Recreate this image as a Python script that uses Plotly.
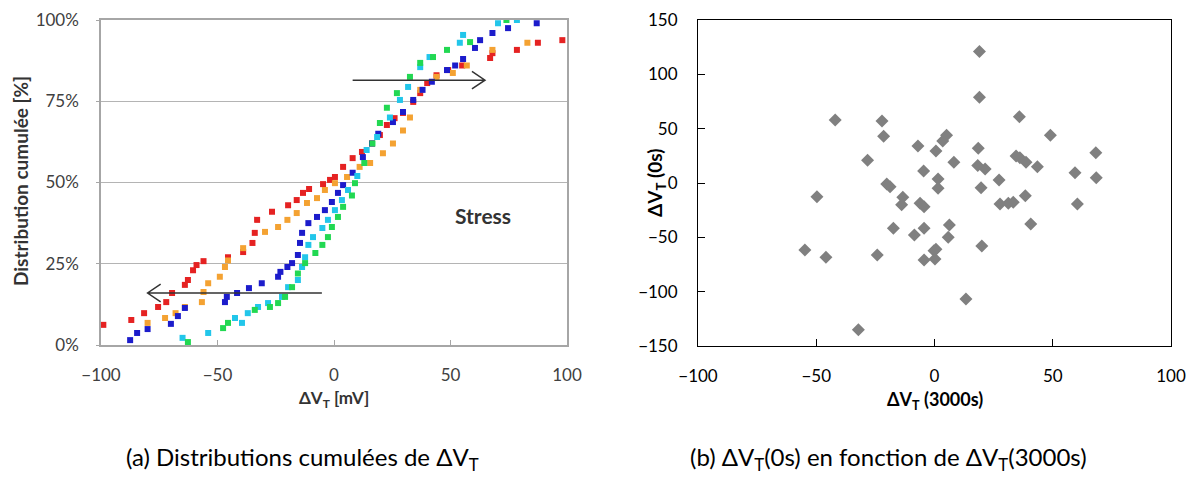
import plotly.graph_objects as go

# (a) cumulative distributions: dVT [mV] vs cumulative percentage
red_x = [-99, -87, -81.5, -75.5, -72, -69.5, -64, -62.7, -60.5, -59, -56, -45.5, -39, -35, -34, -33,
         -26.6, -19.7, -16, -13.3, -10.7, -4.7, -1.7, 0.4, 3.9, 8, 12, 16.3, 19.7, 22.7, 26, 29.6, 34,
         37, 40, 44, 49, 55, 67, 68, 78.5, 87.5, 98]
red_y = [6.2, 7.7, 9.8, 11.7, 13.2, 16, 18.5, 20, 23, 24.6, 25.8, 27, 28.6, 31.4, 34.5, 38.5,
         41, 43, 44.6, 46.8, 48, 49.5, 50.8, 51.7, 54.8, 57.5, 59.4, 62, 64.6, 67.7, 69.8, 71.4, 74.8,
         77.5, 80.6, 83, 84.6, 86, 88.3, 89.8, 90.8, 93, 93.8]

orange_x = [-80, -72.5, -68, -64, -56.7, -56, -54, -49, -46.8, -45.5, -39, -29.6, -24, -20, -16,
            -11.6, -7.3, -3.9, 0.4, 5.6, 11, 15.5, 21, 25.3, 29.6, 32.6, 37, 44, 51, 57, 68, 83]
orange_y = [6.8, 8.3, 9.8, 11.7, 13.2, 16.3, 19, 21, 24, 26, 29.8, 34.8, 36.3, 38.5, 40.6,
            43.7, 45.2, 47.7, 49.8, 51.7, 54.8, 56, 59, 62, 66, 70, 78.5, 82.5, 83.7, 86, 90.8, 93]

blue_x = [-87.5, -84.5, -80, -70, -67, -64, -46.8, -46, -41.6, -36.5, -31, -24, -23, -20, -18, -15.5,
          -14.6, -13.7, -11, -7.3, -3.9, -0.9, 1.7, 3.9, 8, 12.4, 16.3, 19, 25.3, 29.6, 34, 38, 42,
          48.5, 52, 55.4, 60.5, 62.7, 68, 74.7, 87]
blue_y = [1.5, 3.7, 4.9, 6.5, 8.9, 11.4, 13.2, 14.8, 16, 17.5, 19, 21, 22.5, 24, 25.2, 27.7,
          31.4, 34.5, 37.5, 39.4, 41.5, 44, 46.8, 49.2, 53, 57.8, 62, 65, 68.6, 71.7, 75.4, 78.5, 81,
          84.6, 86, 88, 91.4, 93.8, 96, 97.5, 99]

cyan_x = [-65, -54, -42.5, -39.5, -37, -32.6, -28.3, -22.3, -19.7, -15.5, -13.7, -12.4, -11, -9, -5,
          -2.6, 0.4, 3.4, 6, 10, 14, 18.5, 24, 28.3, 31.8, 37, 41, 54, 55.4, 70.4, 78.5]
cyan_y = [2.2, 3.7, 8.3, 6.8, 9.8, 11.7, 12.9, 14.8, 17.8, 20, 24, 27, 30.8, 33.2, 36,
          38.5, 41.5, 44.6, 47.7, 52, 60, 64, 70, 75.4, 79.4, 85.5, 88.6, 93, 95.4, 99, 100]

green_x = [-62.7, -47.6, -45.5, -34, -27.5, -24, -21, -18, -15.5, -12.4, -8, -5, -2.6, -0.9, 1.7, 3.9,
           7.7, 9, 13, 16.5, 19.7, 22.7, 27, 32.6, 37, 42.5, 48.5, 58.4, 74]
green_y = [0.9, 5.2, 6.8, 10.8, 11.7, 12.9, 14.8, 17.8, 22, 25.2, 28.3, 30.8, 33.2, 36.3, 39.4, 42.5,
           46, 49.8, 56, 62, 68.3, 73, 77.5, 82.5, 86.8, 88.6, 90.8, 93.2, 100]

# (b) dVT(0s) vs dVT(3000s)
dvt_3000 = [-42, -22.2, -21.5, -28.3, -7, -4.6, 0.6, -20.2, -18.8, 1.5, 1.5, -49.7, -13.4, 19, 19,
            35.9, 49, 5.1, 3.5, 18.5, 8.2, 34.5, 36.1, 38.7, 43.5, 18.3, 21.4, 68.2, 68.4, 59.4,
            27.3, 19.7, 38.4, -13.9, -6.1, -4.4, 27.7, 31.2, 33.3, 60.4, 40.7, -17.4, -8.5, -4.4,
            6.3, 5.8, 20, 0.6, -0.2, -4.4, 0.2, 13.3, -54.8, -45.9, -24.2, -32.2]
dvt_0 = [58, 57, 43, 21, 34, 11, 29.4, -1, -3.4, 3.7, -4.8, -12.6, -13, 121, 79,
         61, 44, 44, 38.6, 31.9, 19, 24.8, 23.3, 19, 15, 16, 12.9, 27.9, 4.9, 9.5,
         2.8, -4.3, -11.7, -20, -18.7, -21.8, -19.3, -18.7, -17.8, -19.3, -37.7, -41.7, -47.8, -41.7,
         -38.6, -50, -58, -61, -62.3, -70.8, -70, -106.7, -61.6, -68.4, -66.2, -135]

pct_ticks = [0, 25, 50, 75, 100]
pct_labels = ["0%", "25%", "50%", "75%", "100%"]

W, H = 1197, 484
OFF = 8  # the page body adds an 8px margin around the figure
FONT = "Lato"


def dom_x(a, b):
    return [(a - OFF) / W, (b - OFF) / W]


def dom_y(top, bottom):
    return [1 - (bottom - OFF) / H, 1 - (top - OFF) / H]


series = [
    (red_x, red_y, "#E52222"),
    (orange_x, orange_y, "#F4A232"),
    (blue_x, blue_y, "#1C1CCB"),
    (cyan_x, cyan_y, "#22C6EA"),
    (green_x, green_y, "#22D852"),
]

fig = go.Figure()
for xs, ys, col in series:
    fig.add_trace(go.Scatter(x=xs, y=ys, mode="markers", xaxis="x", yaxis="y",
                             marker=dict(symbol="square", size=6, color=col), showlegend=False))

fig.add_trace(go.Scatter(x=dvt_3000, y=dvt_0, mode="markers", xaxis="x2", yaxis="y2",
                         marker=dict(symbol="diamond", size=10, color="#808080"), showlegend=False))

fig.update_layout(
    width=W, height=H,
    margin=dict(l=0, r=0, t=0, b=0, autoexpand=False),
    paper_bgcolor="white", plot_bgcolor="white",
    font=dict(family=FONT, color="#000"),
    xaxis=dict(domain=dom_x(101, 567), range=[-100, 100], tickvals=[-100, -50, 0, 50, 100],
               showgrid=False, zeroline=False, showline=True, linecolor="#A6A6A6", linewidth=1.5,
               mirror=True, ticks="inside", ticklen=5, tickcolor="#A6A6A6", automargin=False,
               tickfont=dict(size=17, color="#404040"), ticklabelstandoff=14, anchor="y"),
    yaxis=dict(domain=dom_y(20, 345), range=[0, 100], tickvals=pct_ticks, ticktext=pct_labels,
               showgrid=True, gridcolor="#B4B4B4", gridwidth=1.2, zeroline=False,
               showline=True, linecolor="#A6A6A6", linewidth=1.5, mirror=True,
               ticks="outside", ticklen=3, tickcolor="#A6A6A6", automargin=False,
               tickfont=dict(size=17, color="#404040"), ticklabelstandoff=14, anchor="x"),
    xaxis2=dict(domain=dom_x(698, 1171), range=[-100, 100], tickvals=[-100, -50, 0, 50, 100],
                showgrid=False, zeroline=False, showline=True, linecolor="#000", linewidth=1,
                mirror=True, ticks="inside", ticklen=7, tickcolor="#000", automargin=False,
                tickfont=dict(size=17, color="#000"), ticklabelstandoff=15, anchor="y2"),
    yaxis2=dict(domain=dom_y(20, 346), range=[-150, 150], tickvals=[-150, -100, -50, 0, 50, 100, 150],
                showgrid=False, zeroline=False, showline=True, linecolor="#000", linewidth=1,
                mirror=True, ticks="inside", ticklen=7, tickcolor="#000", automargin=False,
                tickfont=dict(size=17, color="#000"), ticklabelstandoff=16, anchor="x2"),
)

# arrows in panel (a)
arrow_style = dict(color="#333", width=1.5)
fig.add_shape(type="path", xref="x", yref="y", line=arrow_style,
              path="M 8,81.5 L 64.8,81.5 M 59.2,84.2 L 64.8,81.5 L 59.2,78.8")
fig.add_shape(type="path", xref="x", yref="y", line=arrow_style,
              path="M -5.2,16 L -80,16 M -74.4,18.7 L -80,16 L -74.4,13.3")

fig.add_annotation(x=64, y=39.7, xref="x", yref="y", text="<b>Stress</b>", showarrow=False,
                   font=dict(size=21, color="#333"))


def px_note(x, y, text, size, color="#000", angle=0):
    # place a text at pixel position (x, y) of the page, measured from the top-left corner
    fig.add_annotation(x=(x - OFF) / W, y=1 - (y - OFF) / H, xref="paper", yref="paper", text=text,
                       textangle=angle, showarrow=False, xanchor="center", yanchor="middle",
                       font=dict(size=size, color=color))


# axis titles
px_note(20, 181, "<b>Distribution cumulée [%]</b>", 19, "#333", -90)
px_note(334, 399, "<b>ΔV<sub>T</sub> [mV]</b>", 17, "#333")
px_note(935, 400, "<b>ΔV<sub>T</sub> (3000s)</b>", 18)
px_note(656, 183, "<b>ΔV<sub>T</sub> (0s)</b>", 19, "#000", -90)

# captions
px_note(302, 458, "(a) Distributions cumulées de ΔV<sub>T</sub>", 24)
px_note(888, 458, "(b) ΔV<sub>T</sub>(0s) en fonction de ΔV<sub>T</sub>(3000s)", 24)

fig.write_html("out.html")
